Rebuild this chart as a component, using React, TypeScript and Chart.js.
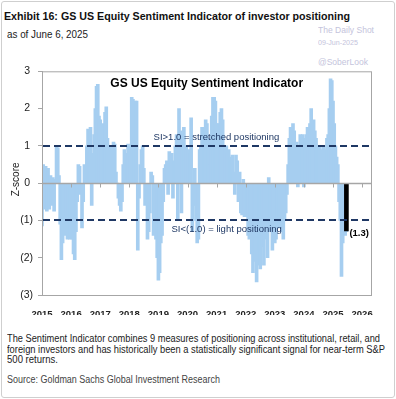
import React, { useEffect, useLayoutEffect, useRef } from 'react';
import { Chart, registerables } from 'chart.js';

Chart.register(...registerables);

// ---------------- data ----------------
const startYear = 2015;
const periodsPerYear = 24; // semi-monthly readings

const sentimentValues: number[] = [
  // 2015
  -1.15, 0.5, -0.7, 0.45, -0.75, 0.4, -0.7, 0.2, -0.6, 0.15, -0.75, 0.1, 1.0, 0.95, 0.2, -1.1, -2.05, -1.6, -1.1, -1.4, -0.9, -1.5, -1.0, -1.5,
  // 2016
  -1.2, -1.5, -1.9, -2.05, -1.3, -0.5, 0.5, 0.45, -0.3, -1.2, -0.5, 0.5, 0.45, 1.0, 1.45, 1.0, 1.5, -0.6, 0.8, 1.3, 2.0, 2.6, 2.65, 1.8,
  // 2017
  1.7, 1.0, 1.6, 0.9, 1.9, 2.05, 1.2, 0.9, 1.0, 0.8, 1.0, 1.1, 1.05, 0.3, 0.0, -0.4, -0.6, -0.75, -0.5, 0.5, 0.9, 0.8, 0.6, 1.05,
  // 2018
  1.0, 0.7, 2.3, 2.25, 1.2, 2.2, 2.2, -1.8, -0.4, 0.5, 0.9, 1.0, 0.4, -0.6, -0.4, -1.5, -1.3, -0.8, 0.3, 0.2, -1.4, -1.2, -1.5, -2.0,
  // 2019
  -2.6, -2.4, -1.6, -1.4, -0.5, 0.4, 0.5, 0.6, -0.3, 0.85, 0.7, 0.8, -0.4, 0.6, 1.0, 1.3, -1.0, 2.0, 1.4, -0.8, 1.3, 1.5, 0.6, 1.0,
  // 2020
  0.5, 0.9, 0.8, 1.75, -1.3, -0.6, 0.4, -1.0, -1.6, -1.5, 0.9, 1.0, 1.5, 1.3, 1.5, 1.7, 1.6, 1.0, 1.2, 0.5, 1.8, 2.3, 2.3, 2.2,
  // 2021
  1.6, 1.3, 1.6, 1.9, 2.0, 1.7, 1.0, 0.9, 1.0, 0.8, 0.9, 0.7, 0.6, 0.75, 0.3, -0.3, 0.75, 0.6, -0.5, 0.3, -0.8, -0.85, 0.1, -0.9,
  // 2022
  -0.9, -0.7, -1.4, -1.5, -1.1, -1.9, -2.4, -1.8, -2.1, -2.65, -2.2, -1.8, -2.3, -1.5, -1.7, -2.2, -1.5, -1.2, -2.0, 0.15, -1.3, -1.0, -1.8, -1.4,
  // 2023
  -1.6, -1.5, -1.2, -0.7, -1.2, -0.9, -1.3, -1.5, -1.0, -0.8, -0.3, 0.5, 1.2, 1.5, 1.2, 1.6, 1.4, 0.9, 1.1, -0.1, 1.0, 1.3, 1.2, 1.3,
  // 2024
  -0.1, 1.2, 1.3, 1.5, 1.4, 1.6, 2.0, 1.6, 1.7, 1.4, 1.2, 1.0, 0.9, 1.0, 0.9, 0.8, 1.0, 0.6, 0.9, 1.2, 1.3, 2.0, 2.8, 2.75,
  // 2025 (to June)
  2.2, 1.6, 1.0, 0.7, 0.5, -0.5, -1.0, -2.5, -1.6, -1.1, -1.4, -1.3,
];

const sentimentDates: number[] = sentimentValues.map((_, i) => startYear + i / periodsPerYear);

const latestDate = 2025.46;
const latestValue = -1.28;
const latestLabel = '(1.3)';

const xMin = 2015;
const xMax = 2026.34;
const yMin = -3;
const yMax = 3;
const yearTicks = [2015, 2016, 2017, 2018, 2019, 2020, 2021, 2022, 2023, 2024, 2025, 2026];

const thresholdHigh = 1;
const thresholdLow = -1;
const chartTitle = 'GS US Equity Sentiment Indicator';
const highLabel = 'SI>1.0 = stretched positioning';
const lowLabel = 'SI<(1.0) = light positioning';
const yAxisTitle = 'Z-score';

const headerText = 'Exhibit 16: GS US Equity Sentiment Indicator of investor positioning';
const subText = 'as of June 6, 2025';
const footerLines = [
  'The Sentiment Indicator combines 9 measures of positioning across institutional, retail, and',
  'foreign investors and has historically been a statistically significant signal for near-term S&P',
  '500 returns.',
];
const sourceText = 'Source: Goldman Sachs Global Investment Research';

// ---------------- styles ----------------
const FONT = "Arial, 'Liberation Sans', Helvetica, sans-serif";
const NARROW = "'Liberation Sans Narrow', 'Arial Narrow', 'Liberation Sans', Arial, sans-serif";
const BAR_BLUE = 'rgb(166,206,240)';
const NAVY = '#1F3864';
const AXIS_GRAY = '#A6A6A6';

const overlayPlugin = {
  id: 'overlay',
  afterDatasetsDraw(chart: any) {
    const { ctx, chartArea: a } = chart;
    const x = chart.scales.x;
    const y = chart.scales.y;
    ctx.save();

    // threshold dashed lines
    ctx.strokeStyle = NAVY;
    ctx.lineWidth = 2;
    ctx.setLineDash([7, 4]);
    [thresholdHigh, thresholdLow].forEach((v) => {
      const py = Math.round(y.getPixelForValue(v));
      ctx.beginPath();
      ctx.moveTo(a.left + 1, py);
      ctx.lineTo(a.right, py);
      ctx.stroke();
    });
    ctx.setLineDash([]);

    // zero line with year tick marks
    const y0 = Math.round(y.getPixelForValue(0)) + 0.5;
    ctx.strokeStyle = AXIS_GRAY;
    ctx.lineWidth = 1.5;
    ctx.beginPath();
    ctx.moveTo(a.left, y0);
    ctx.lineTo(a.right, y0);
    ctx.stroke();
    ctx.lineWidth = 1;
    ctx.beginPath();
    yearTicks.forEach((yr) => {
      const px = Math.round(x.getPixelForValue(yr)) + 0.5;
      ctx.moveTo(px, y0);
      ctx.lineTo(px, y0 + 4);
    });
    ctx.stroke();

    // plot frame
    ctx.strokeStyle = AXIS_GRAY;
    ctx.lineWidth = 1;
    ctx.strokeRect(a.left + 0.5, a.top + 0.5, a.right - a.left - 1, a.bottom - a.top);

    // inner title
    ctx.fillStyle = '#000';
    ctx.font = `bold 12px ${FONT}`;
    ctx.textAlign = 'center';
    ctx.textBaseline = 'middle';
    ctx.fillText(chartTitle, x.getPixelForValue(2020.66), y.getPixelForValue(2.68));

    // threshold annotations
    ctx.fillStyle = NAVY;
    ctx.font = `9.5px ${FONT}`;
    ctx.textAlign = 'left';
    ctx.textBaseline = 'middle';
    ctx.fillText(highLabel, x.getPixelForValue(2018.835), y.getPixelForValue(1.22));
    ctx.fillText(lowLabel, x.getPixelForValue(2019.45), y.getPixelForValue(-1.24));

    // latest value label, next to the bottom of the black bar
    const meta = chart.getDatasetMeta(0);
    const el = meta && meta.data && meta.data[0];
    if (el) {
      ctx.fillStyle = '#000';
      ctx.font = `bold 9.5px ${FONT}`;
      ctx.textAlign = 'left';
      ctx.textBaseline = 'middle';
      ctx.fillText(latestLabel, el.x + 3, y.getPixelForValue(latestValue) + 3);
    }

    // y axis title
    ctx.save();
    ctx.translate(a.left - 26, y.getPixelForValue(0.1));
    ctx.rotate(-Math.PI / 2);
    ctx.fillStyle = '#222';
    ctx.font = `10px ${FONT}`;
    ctx.textAlign = 'center';
    ctx.textBaseline = 'middle';
    ctx.fillText(yAxisTitle, 0, 0);
    ctx.restore();

    ctx.restore();
  },
};

type FitProps = {
  text: string;
  left: number;
  centerY: number;
  width: number;
  size: number;
  weight?: string | number;
  color?: string;
  family?: string;
};

function FitText({ text, left, centerY, width, size, weight = 'normal', color = '#222', family = NARROW }: FitProps) {
  const ref = useRef<HTMLSpanElement>(null);
  useLayoutEffect(() => {
    const el = ref.current;
    if (!el) return;
    el.style.transform = 'none';
    const w = el.getBoundingClientRect().width;
    if (w > 0) el.style.transform = `scaleX(${width / w})`;
  }, [text, width, size, weight, family]);
  const lh = Math.round(size * 1.2);
  return (
    <span
      ref={ref}
      style={{
        position: 'absolute',
        left,
        top: centerY - lh / 2,
        fontFamily: family,
        fontSize: size,
        fontWeight: weight as any,
        lineHeight: `${lh}px`,
        whiteSpace: 'pre',
        transformOrigin: 'left center',
        color,
      }}
    >
      {text}
    </span>
  );
}

function SentimentChart() {
  const canvasRef = useRef<HTMLCanvasElement>(null);
  useEffect(() => {
    const canvas = canvasRef.current;
    if (!canvas) return;
    const chart = new Chart(canvas, {
      type: 'bar',
      data: {
        datasets: [
          {
            label: 'Latest',
            data: [{ x: latestDate, y: latestValue }],
            backgroundColor: '#000',
            barThickness: 4,
            grouped: false,
            order: 0,
          } as any,
          {
            label: chartTitle,
            data: sentimentDates.map((d, i) => ({ x: d, y: sentimentValues[i] })),
            backgroundColor: BAR_BLUE,
            barThickness: 3,
            grouped: false,
            order: 1,
          } as any,
        ],
      },
      options: {
        animation: false,
        responsive: false,
        layout: { padding: { top: 8, right: 24, left: 0, bottom: 0 } },
        plugins: {
          legend: { display: false },
          tooltip: { enabled: false },
          title: { display: false },
        },
        scales: {
          x: {
            type: 'linear',
            min: xMin,
            max: xMax,
            offset: false,
            grid: { display: false, offset: false },
            border: { display: false },
            ticks: {
              stepSize: 1,
              includeBounds: false,
              autoSkip: false,
              maxRotation: 0,
              padding: 6,
              color: '#222',
              font: { family: FONT, size: 9.5, weight: 'bold' },
              callback: (v: any) => String(v),
            },
            afterFit: (s: any) => {
              s.height = 20;
            },
          },
          y: {
            min: yMin,
            max: yMax,
            grid: { drawOnChartArea: false, drawTicks: true, tickLength: 4, color: AXIS_GRAY },
            border: { display: true, color: AXIS_GRAY },
            ticks: {
              stepSize: 1,
              padding: 5,
              color: '#222',
              font: { family: FONT, size: 10.5 },
              callback: (v: any) => (v < 0 ? `(${-v})` : `${v} `),
            },
            afterFit: (s: any) => {
              s.width = 42;
            },
          },
        },
      } as any,
      plugins: [overlayPlugin],
    });
    return () => chart.destroy();
  }, []);
  return <canvas ref={canvasRef} width={396} height={255} style={{ display: 'block' }} />;
}

export default function App() {
  const wm = '#C4C4DC';
  return (
    <div style={{ position: 'fixed', left: 0, top: 0, width: 396, height: 399, background: '#fff', overflow: 'hidden' }}>
      <div
        style={{
          position: 'absolute',
          left: 1,
          top: 1,
          width: 394,
          height: 397,
          boxSizing: 'border-box',
          border: '1px solid #cfcfcf',
          borderRadius: 3,
        }}
      />
      <FitText text={headerText} left={4} centerY={16.5} width={346} size={11} weight="bold" color="#111" />
      <FitText text={subText} left={7} centerY={34.5} width={81} size={11} color="#222" />
      <FitText text="The Daily Shot" left={318} centerY={30} width={56} size={9} color={wm} family={FONT} />
      <FitText text="09-Jun-2025" left={318} centerY={43} width={40} size={7} color={wm} family={FONT} />
      <FitText text="@SoberLook" left={318} centerY={62} width={50} size={8.5} color={wm} family={FONT} />
      <div style={{ position: 'absolute', left: 0, top: 60, width: 396, height: 255 }}>
        <SentimentChart />
      </div>
      <FitText text={footerLines[0]} left={7} centerY={339} width={373} size={10} color="#222" />
      <FitText text={footerLines[1]} left={7} centerY={349.5} width={378} size={10} color="#222" />
      <FitText text={footerLines[2]} left={7} centerY={360} width={51} size={10} color="#222" />
      <FitText text={sourceText} left={7} centerY={379.5} width={213} size={10} color="#444" />
    </div>
  );
}
